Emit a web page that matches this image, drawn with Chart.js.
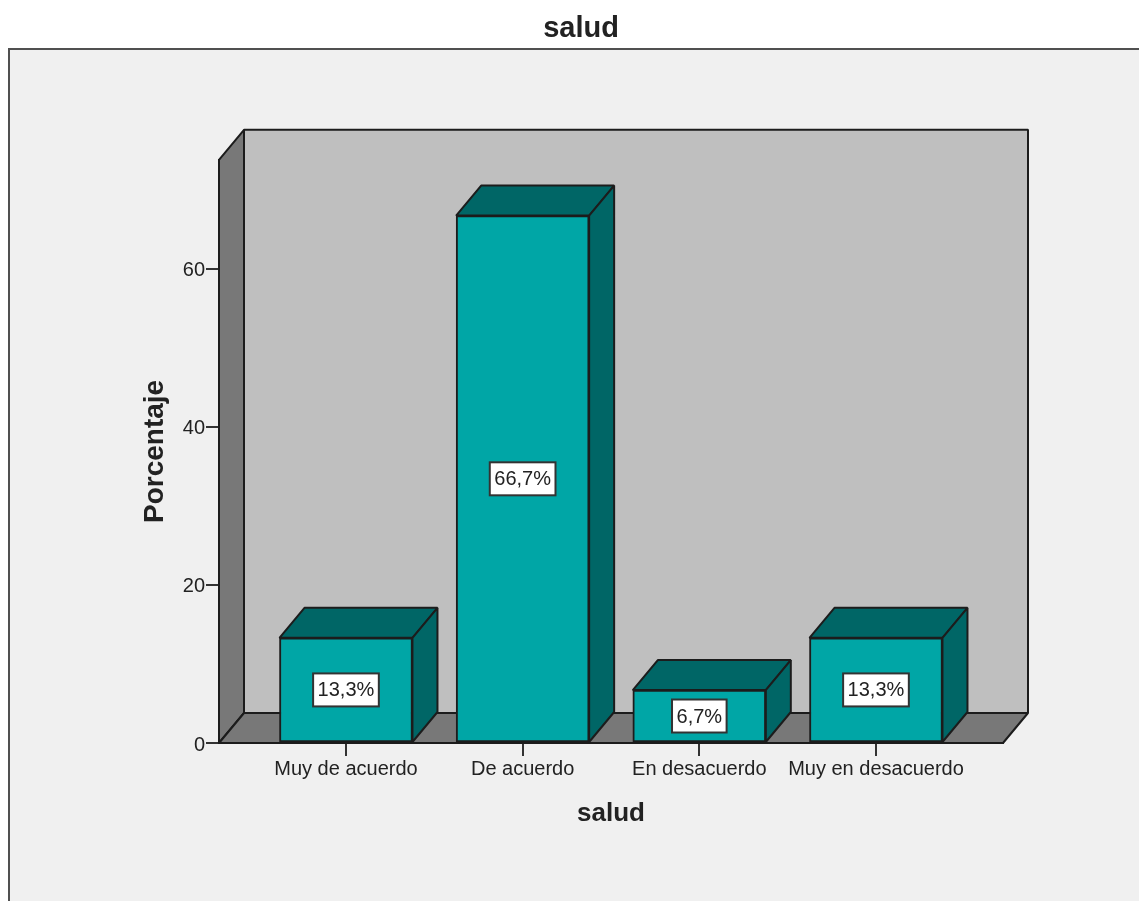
<!DOCTYPE html>
<html>
<head>
<meta charset="utf-8">
<style>
html,body{margin:0;padding:0;background:#fff;overflow:hidden}
canvas{display:block;filter:blur(0.45px)}
</style>
<script src="https://cdn.jsdelivr.net/npm/chart.js@4/dist/chart.umd.min.js"></script>
</head>
<body>
<canvas id="c" width="1139" height="901"></canvas>
<script>
const categories = ["Muy de acuerdo", "De acuerdo", "En desacuerdo", "Muy en desacuerdo"];
const percentages = [13.3, 66.7, 6.7, 13.3];
const valueLabels = ["13,3%", "66,7%", "6,7%", "13,3%"];
const yTicks = [0, 20, 40, 60];
const chartTitle = "salud";
const xTitle = "salud";
const yTitle = "Porcentaje";

const FONT = "'Liberation Sans', Arial, sans-serif";
const INK = "#1c1c1c";
const TEXT = "#222222";
const DX = 25, DY = 30;

function poly(ctx, pts, fill) {
  ctx.beginPath();
  pts.forEach((p, i) => i ? ctx.lineTo(p[0], p[1]) : ctx.moveTo(p[0], p[1]));
  ctx.closePath();
  ctx.fillStyle = fill;
  ctx.fill();
  ctx.lineWidth = 2;
  ctx.strokeStyle = INK;
  ctx.lineJoin = "bevel";
  ctx.stroke();
}

const depthPlugin = {
  id: "depth",
  beforeDraw(chart) {
    const ctx = chart.ctx;
    const { left: l, right: r, top: t, bottom: b } = chart.chartArea;
    ctx.save();
    ctx.fillStyle = "#f0f0f0";
    ctx.fillRect(9, 49, 1140, 860);
    ctx.strokeStyle = "#505050";
    ctx.lineWidth = 2;
    ctx.strokeRect(9, 49, 1140, 860);
    poly(ctx, [[l + DX, t - DY], [r + DX, t - DY], [r + DX, b - DY], [l + DX, b - DY]], "#bfbfbf");
    poly(ctx, [[l, t], [l + DX, t - DY], [l + DX, b - DY], [l, b]], "#787878");
    poly(ctx, [[l, b], [l + DX, b - DY], [r + DX, b - DY], [r, b]], "#787878");
    ctx.restore();
  },
  beforeDatasetsDraw(chart) {
    const ctx = chart.ctx;
    ctx.save();
    chart.getDatasetMeta(0).data.forEach(bar => {
      const p = bar.getProps(["x", "y", "base", "width"], true);
      const x0 = p.x - p.width / 2, x1 = p.x + p.width / 2;
      poly(ctx, [[x0, p.y], [x0 + DX, p.y - DY], [x1 + DX, p.y - DY], [x1, p.y]], "#006666");
      poly(ctx, [[x1, p.y], [x1 + DX, p.y - DY], [x1 + DX, p.base - DY], [x1, p.base]], "#006666");
    });
    ctx.restore();
  },
  afterDatasetsDraw(chart) {
    const ctx = chart.ctx;
    ctx.save();
    ctx.font = "20px " + FONT;
    ctx.textAlign = "center";
    ctx.textBaseline = "middle";
    chart.getDatasetMeta(0).data.forEach((bar, i) => {
      const p = bar.getProps(["x", "y", "base"], true);
      const cy = (p.y + p.base) / 2;
      const w = ctx.measureText(valueLabels[i]).width + 9, h = 33;
      ctx.fillStyle = "#ffffff";
      ctx.fillRect(p.x - w / 2, cy - h / 2, w, h);
      ctx.strokeStyle = "#333333";
      ctx.lineWidth = 2;
      ctx.strokeRect(p.x - w / 2, cy - h / 2, w, h);
      ctx.fillStyle = TEXT;
      ctx.fillText(valueLabels[i], p.x, cy + 1);
    });
    ctx.restore();
  }
};

new Chart(document.getElementById("c"), {
  type: "bar",
  data: {
    datasets: [{
      data: percentages.map((v, i) => ({ x: i, y: v })),
      backgroundColor: "#00a6a6",
      borderColor: INK,
      borderWidth: 2,
      borderSkipped: false,
      barThickness: 133
    }]
  },
  options: {
    responsive: false,
    animation: false,
    layout: { autoPadding: false, padding: { top: 0, bottom: 0, left: 159, right: 136 } },
    plugins: {
      legend: { display: false },
      tooltip: { enabled: false },
      title: {
        display: true,
        text: chartTitle,
        color: TEXT,
        font: { family: FONT, size: 29, weight: "bold" },
        padding: { top: 12, bottom: 113 }
      }
    },
    scales: {
      x: {
        type: "linear",
        min: -0.7187,
        max: 3.719,
        offset: false,
        afterBuildTicks(s) { s.ticks = categories.map((_, i) => ({ value: i })); },
        afterFit(s) { s.height = 158; },
        grid: { offset: false, drawOnChartArea: false, drawTicks: true, tickLength: 13, color: "#333333", lineWidth: 2 },
        border: { display: true, color: INK, width: 2 },
        ticks: {
          autoSkip: false, maxRotation: 0, minRotation: 0, padding: 1, color: TEXT,
          font: { family: FONT, size: 20 },
          callback: v => categories[v]
        },
        title: {
          display: true, text: xTitle, color: TEXT,
          font: { family: FONT, size: 26, weight: "bold" },
          padding: { top: 0, bottom: 72 }
        }
      },
      y: {
        min: 0,
        max: 73.76,
        afterBuildTicks(s) { s.ticks = yTicks.map(v => ({ value: v })); },
        afterFit(s) { s.width = 60; },
        grid: { drawOnChartArea: false, drawTicks: true, tickLength: 13, color: "#333333", lineWidth: 2 },
        border: { display: true, color: INK, width: 2 },
        ticks: { padding: 1, labelOffset: 2, color: TEXT, font: { family: FONT, size: 20 } },
        title: {
          display: true, text: yTitle, color: TEXT,
          font: { family: FONT, size: 28, weight: "bold" },
          padding: { top: -21, bottom: 0 }
        }
      }
    }
  },
  plugins: [depthPlugin]
});
</script>
</body>
</html>
